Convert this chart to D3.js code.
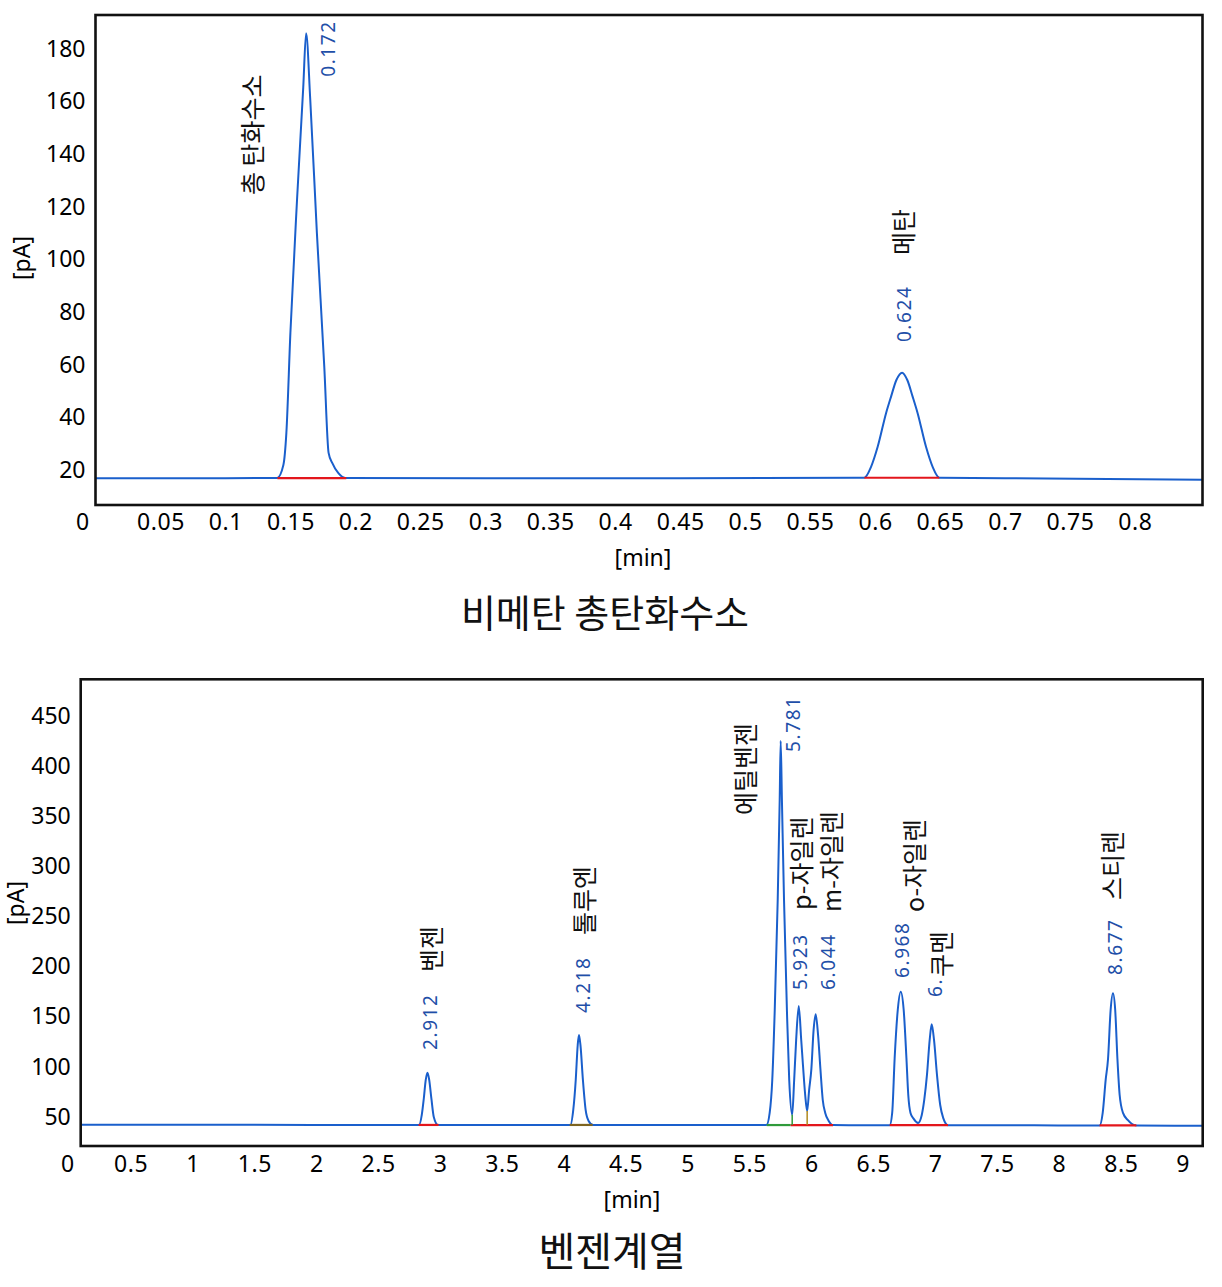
<!DOCTYPE html>
<html>
<head>
<meta charset="utf-8">
<script src="https://cdn.jsdelivr.net/npm/d3@7"></script>
<style>
  body { margin: 0; background: #fff; }
</style>
</head>
<body>
<div id="chart"></div>
<script>
// ---- top chart: 비메탄 총탄화수소 ----
const THC_TIME = [0, 0.10, 0.1399, 0.1446, 0.1469, 0.1500, 0.1551, 0.1599, 0.1621, 0.1653, 0.1704, 0.1761, 0.1794,
                  0.1822, 0.1868, 0.1922, 0.30, 0.45, 0.5918, 0.5969, 0.6020, 0.6085, 0.6123, 0.6164, 0.6208, 0.6248,
                  0.6289, 0.6327, 0.6392, 0.6443, 0.6494, 0.70, 0.852];
const THC_PA = [16.9, 16.9, 17.0, 21.9, 34.1, 72.1, 122.6, 165.5, 186.0, 160.6, 110.0, 59.1, 26.5,
                22.7, 18.9, 17.0, 16.9, 16.9, 17.1, 21.2, 28.8, 41.7, 47.9, 54.2, 57.0, 54.2,
                47.9, 41.7, 28.8, 21.2, 17.1, 16.9, 16.3];
const THC_NAMES = ["총 탄화수소", "메탄"];
const THC_RT = ["0.172", "0.624"];
// integration baselines: start, end, level
const THC_SEG_START = [0.140, 0.5918];
const THC_SEG_END = [0.193, 0.6494];
const THC_SEG_LEVEL = [16.9, 17.05];
const THC_X_TICKS = [0.05, 0.1, 0.15, 0.2, 0.25, 0.3, 0.35, 0.4, 0.45, 0.5, 0.55, 0.6, 0.65, 0.7, 0.75, 0.8];
const THC_Y_TICKS = [20, 40, 60, 80, 100, 120, 140, 160, 180];

// ---- bottom chart: 벤젠계열 ----
const BTEX_TIME = [0.096, 1.5, 2.5, 2.830, 2.852, 2.868, 2.884, 2.898, 2.912, 2.930, 2.949, 2.983, 3.5,
                   4.053, 4.076, 4.096, 4.112, 4.122, 4.134, 4.154, 4.176, 4.200, 4.236, 5.0,
                   5.637, 5.663, 5.684, 5.704, 5.728, 5.744, 5.752, 5.762, 5.779, 5.803, 5.821, 5.845,
                   5.861, 5.877, 5.898, 5.918, 5.932, 5.950, 5.966,
                   5.982, 6.000, 6.018, 6.035, 6.054, 6.073, 6.092, 6.112, 6.140, 6.175, 6.4,
                   6.633, 6.653, 6.673, 6.698, 6.722, 6.746, 6.768, 6.783, 6.801, 6.827, 6.862,
                   6.892, 6.912, 6.934, 6.956, 6.972, 6.991, 7.015, 7.041, 7.065, 7.104, 7.8,
                   8.329, 8.354, 8.378, 8.397, 8.418, 8.437, 8.455, 8.473, 8.491, 8.518, 8.556, 8.626, 9.162];
const BTEX_PA = [42.0, 42.0, 41.9, 41.9, 51.9, 67.8, 86.8, 94.1, 86.8, 67.8, 49.9, 41.9, 41.9,
                 41.9, 56.9, 86.8, 121.7, 131.7, 121.7, 86.8, 56.9, 45.9, 41.9, 41.8,
                 41.8, 53.9, 86.8, 156.6, 266.3, 366.1, 424.9, 366.1, 266.3, 153.6, 86.8, 52.0,
                 86.8, 126.7, 160.6, 126.7, 101.7, 71.8, 55.9,
                 76.8, 97.8, 136.7, 152.3, 131.7, 97.8, 66.8, 53.9, 45.9, 41.8, 41.7,
                 41.7, 53.9, 108.7, 156.6, 174.9, 156.6, 108.7, 71.8, 53.9, 47.9, 43.9,
                 51.9, 66.8, 91.8, 126.7, 142.3, 126.7, 91.8, 61.8, 48.9, 41.6, 41.5,
                 41.4, 53.9, 86.8, 107.7, 156.6, 173.3, 156.6, 107.7, 71.8, 53.9, 46.9, 41.3, 41.0];
const BTEX_NAMES = ["벤젠", "톨루엔", "에틸벤젠", "p-자일렌", "m-자일렌", "o-자일렌", "쿠멘", "스티렌"];
const BTEX_RT = ["2.912", "4.218", "5.781", "5.923", "6.044", "6.968", "6.", "8.677"];
const BTEX_SEG_START = [2.826, 4.047, 5.639, 5.833, 6.633, 8.329];
const BTEX_SEG_END = [2.988, 4.233, 5.833, 6.175, 7.104, 8.626];
const BTEX_SEG_LEVEL = [41.9, 41.9, 41.8, 41.8, 41.7, 41.4];
const BTEX_DROP_TIME = [5.845, 5.966];
const BTEX_DROP_TOP = [52.0, 55.9];
const BTEX_X_TICKS = [0.5, 1, 1.5, 2, 2.5, 3, 3.5, 4, 4.5, 5, 5.5, 6, 6.5, 7, 7.5, 8, 8.5, 9];
const BTEX_Y_TICKS = [50, 100, 150, 200, 250, 300, 350, 400, 450];

// label anchors in data units (time, pA) - bottom end of the rotated text
const THC_NAME_AT = [[0.1216, 124.5], [0.6225, 101.7]];
const THC_RT_AT = [[0.1791, 169.4], [0.6225, 68.6]];
const BTEX_NAME_AT = [[2.932, 194.5], [4.169, 231.4], [5.470, 351], [5.922, 256.4],
                      [6.164, 254.4], [6.835, 254.4], [7.053, 189.5], [8.435, 266.3]];
const BTEX_RT_AT = [[2.916, 116.7], [4.153, 153.6], [5.849, 414], [5.906, 176.6],
                    [6.132, 176.6], [6.730, 188.5], [6.997, 169.6], [8.451, 191.5]];

const SEG_COLORS_BTEX = ["#e3161c", "#7d6420", "#2f9a3a", "#e3161c", "#e3161c", "#e3161c"];
const DROP_COLORS = ["#2f9a3a", "#b08a20"];
const LINE_BLUE = "#1a5fcc";
const TEXT_BLUE = "#1f4fa8";
const LATIN = "'Noto Sans', 'DejaVu Sans', sans-serif";
const KOREAN = "'Noto Sans CJK KR', 'Noto Sans', sans-serif";
const TICK_SIZE = 23;

const svg = d3.select("#chart")
              .append("svg")
                .attr("width", 1222)
                .attr("height", 1287)
                .style("background", "#fff");

function drawPanel(p) {
  const g = svg.append("g").attr("transform", "translate(" + p.left + "," + p.top + ")");

  const X = d3.scaleLinear().domain(p.xDomain).range([0, p.width]);
  const Y = d3.scaleLinear().domain(p.yDomain).range([p.height, 0]);

  // x axis
  const xa = g.append("g")
      .attr("transform", "translate(0," + p.height + ")")
      .call(d3.axisBottom(X).tickValues(p.xTicks).tickSize(0).tickPadding(p.xPad)
              .tickFormat(d => String(d)))
      .attr("font-size", TICK_SIZE)
      .attr("font-family", LATIN);
  xa.select(".domain").remove();
  xa.selectAll("text").attr("letter-spacing", 0.6);

  // corner zero label
  g.append("text")
      .attr("x", -13)
      .attr("y", p.height + p.xPad)
      .attr("dy", "0.71em")
      .attr("text-anchor", "middle")
      .attr("font-size", TICK_SIZE)
      .attr("font-family", LATIN)
      .text("0");

  // y axis
  const ya = g.append("g")
      .call(d3.axisLeft(Y).tickValues(p.yTicks).tickSize(0).tickPadding(10)
              .tickFormat(d => String(d)))
      .attr("font-size", TICK_SIZE)
      .attr("font-family", LATIN);
  ya.select(".domain").remove();

  // trace
  const pts = d3.zip(p.time, p.signal);
  g.append("path")
      .datum(pts)
      .attr("fill", "none")
      .attr("stroke", LINE_BLUE)
      .attr("stroke-width", 2)
      .attr("stroke-linejoin", "round")
      .attr("d", d3.line().x(d => X(d[0])).y(d => Y(d[1])).curve(d3.curveMonotoneX));

  // integration baselines
  g.selectAll(".seg")
    .data(d3.range(p.segStart.length))
    .enter()
    .append("line")
      .attr("class", "seg")
      .attr("x1", i => X(p.segStart[i]))
      .attr("x2", i => X(p.segEnd[i]))
      .attr("y1", i => Y(p.segLevel[i]))
      .attr("y2", i => Y(p.segLevel[i]))
      .attr("stroke", i => p.segColors[i])
      .attr("stroke-width", 2.2);

  // drop lines
  g.selectAll(".drop")
    .data(d3.range(p.dropTime.length))
    .enter()
    .append("line")
      .attr("class", "drop")
      .attr("x1", i => X(p.dropTime[i]))
      .attr("x2", i => X(p.dropTime[i]))
      .attr("y1", i => Y(p.segLevel[0]))
      .attr("y2", i => Y(p.dropTop[i]))
      .attr("stroke", i => DROP_COLORS[i])
      .attr("stroke-width", 1.5);

  // peak names
  g.selectAll(".pname")
    .data(d3.range(p.names.length))
    .enter()
    .append("text")
      .attr("class", "pname")
      .attr("transform", i => "translate(" + X(p.nameAt[i][0]) + "," + Y(p.nameAt[i][1]) + ") rotate(-90)")
      .attr("dy", "0.36em")
      .attr("font-size", 25)
      .attr("font-family", KOREAN)
      .attr("fill", "#111")
      .text(i => p.names[i]);

  // retention times
  g.selectAll(".prt")
    .data(d3.range(p.rts.length))
    .enter()
    .append("text")
      .attr("class", "prt")
      .attr("transform", i => "translate(" + X(p.rtAt[i][0]) + "," + Y(p.rtAt[i][1]) + ") rotate(-90)")
      .attr("dy", "0.36em")
      .attr("font-size", 19)
      .attr("letter-spacing", 1.6)
      .attr("font-family", LATIN)
      .attr("fill", TEXT_BLUE)
      .text(i => p.rts[i]);

  // frame
  g.append("rect")
      .attr("width", p.width)
      .attr("height", p.height)
      .attr("fill", "none")
      .attr("stroke", "#111")
      .attr("stroke-width", 2.6);

  // axis titles
  svg.append("text")
      .attr("x", p.xTitle[0]).attr("y", p.xTitle[1])
      .attr("dy", "0.35em")
      .attr("text-anchor", "middle")
      .attr("font-size", 23)
      .attr("font-family", LATIN)
      .text("[min]");
  svg.append("text")
      .attr("transform", "translate(" + p.yTitle[0] + "," + p.yTitle[1] + ") rotate(-90)")
      .attr("dy", "0.35em")
      .attr("text-anchor", "middle")
      .attr("font-size", 23)
      .attr("font-family", LATIN)
      .text("[pA]");

  // chart title
  svg.append("text")
      .attr("x", p.title[0]).attr("y", p.title[1])
      .attr("dy", "0.36em")
      .attr("text-anchor", "middle")
      .attr("font-size", p.titleSize)
      .attr("font-family", KOREAN)
      .attr("fill", "#111")
      .text(p.titleText);
}

drawPanel({
  left: 95.5, top: 15, width: 1107, height: 490,
  xDomain: [0, 0.852], yDomain: [6.7, 192.9],
  xTicks: THC_X_TICKS, yTicks: THC_Y_TICKS, xPad: 9,
  time: THC_TIME, signal: THC_PA,
  segStart: THC_SEG_START, segEnd: THC_SEG_END, segLevel: THC_SEG_LEVEL,
  segColors: ["#e3161c", "#e3161c"],
  dropTime: [], dropTop: [],
  names: THC_NAMES, nameAt: THC_NAME_AT, rts: THC_RT, rtAt: THC_RT_AT,
  xTitle: [643, 558], yTitle: [22, 258],
  title: [605, 613], titleText: "비메탄 총탄화수소", titleSize: 38
});

drawPanel({
  left: 80.7, top: 679.3, width: 1122, height: 466.7,
  xDomain: [0.096, 9.162], yDomain: [20.9, 486.5],
  xTicks: BTEX_X_TICKS, yTicks: BTEX_Y_TICKS, xPad: 10,
  time: BTEX_TIME, signal: BTEX_PA,
  segStart: BTEX_SEG_START, segEnd: BTEX_SEG_END, segLevel: BTEX_SEG_LEVEL,
  segColors: SEG_COLORS_BTEX,
  dropTime: BTEX_DROP_TIME, dropTop: BTEX_DROP_TOP,
  names: BTEX_NAMES, nameAt: BTEX_NAME_AT, rts: BTEX_RT, rtAt: BTEX_RT_AT,
  xTitle: [632, 1200], yTitle: [16, 903],
  title: [612, 1252], titleText: "벤젠계열", titleSize: 40
});
</script>
</body>
</html>
